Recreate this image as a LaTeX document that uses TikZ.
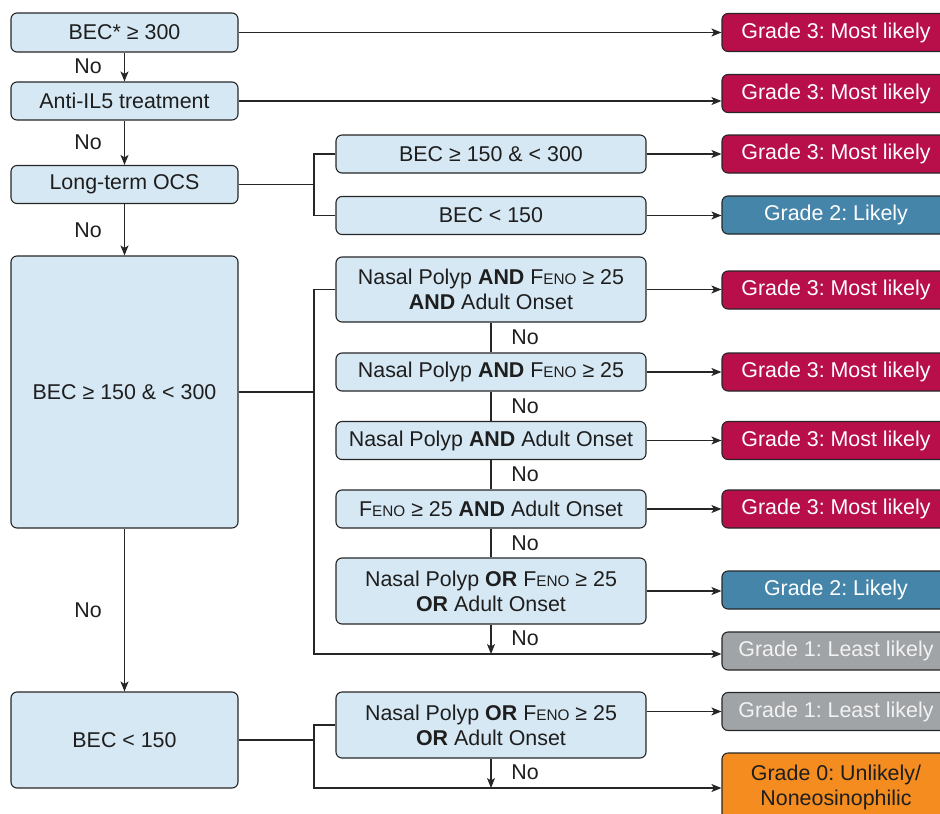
\documentclass[tikz,border=0pt]{standalone}
\usepackage{fontspec}
\setmainfont{Liberation Sans}
\usetikzlibrary{arrows.meta}
\definecolor{boxfill}{RGB}{214,232,244}
\definecolor{linec}{RGB}{38,38,38}
\definecolor{txtc}{RGB}{30,30,30}
\definecolor{gthree}{RGB}{184,15,75}
\definecolor{gtwo}{RGB}{69,133,170}
\definecolor{gone}{RGB}{160,164,167}
\definecolor{gzero}{RGB}{244,140,32}
\newcommand{\feno}{F{\fontsize{15.3}{15.3}\selectfont ENO}}
\frenchspacing
\begin{document}
\begin{tikzpicture}[x=1pt,y=-1pt,
  font=\fontsize{21.4}{25}\selectfont, line width=1.1pt,
  qbox/.style={draw=linec, fill=boxfill, rounded corners=6pt, align=center, inner sep=0pt, text=txtc},
  lbox/.style={qbox, minimum width=227pt},
  mbox/.style={qbox, minimum width=310pt, minimum height=38pt},
  grade/.style={draw=linec, rounded corners=6pt, align=center, inner sep=0pt, minimum width=228pt, minimum height=38pt},
  g3/.style={grade, fill=gthree, text=white},
  g2/.style={grade, fill=gtwo, text=white},
  g1/.style={grade, fill=gone, text=white!95!black},
  g0/.style={grade, fill=gzero, text=txtc},
  arr/.style={draw=linec, -{Stealth[length=10pt,width=8pt,inset=2.5pt]}},
  ln/.style={draw=linec},
  nolab/.style={inner sep=0pt, text=txtc}]
\useasboundingbox (0,0) rectangle (940,814);
\clip (0,0) rectangle (940,814);
% left column
\node[lbox, minimum height=39pt] (b1) at (124.5,32.5) {BEC* ≥ 300};
\node[lbox, minimum height=38pt] (b2) at (124.5,101) {Anti-IL5 treatment};
\node[lbox, minimum height=38pt] (b3) at (124.5,184.5) {Long-term OCS};
\node[lbox, minimum height=272pt] (b4) at (124.5,392) {BEC ≥ 150 \& < 300};
\node[lbox, minimum height=96pt] (b5) at (124.5,740) {BEC < 150};
% middle column
\node[mbox] (m1) at (491,154) {BEC ≥ 150 \& < 300};
\node[mbox] (m2) at (491,215.5) {BEC < 150};
\node[mbox, minimum height=65pt] (m3) at (491,289.5) {Nasal Polyp \textbf{AND} \feno{} ≥ 25\\\textbf{AND} Adult Onset};
\node[mbox] (m4) at (491,372) {Nasal Polyp \textbf{AND} \feno{} ≥ 25};
\node[mbox] (m5) at (491,440.5) {Nasal Polyp \textbf{AND} Adult Onset};
\node[mbox] (m6) at (491,509) {\feno{} ≥ 25 \textbf{AND} Adult Onset};
\node[mbox, minimum height=66pt] (m7) at (491,591) {Nasal Polyp \textbf{OR} \feno{} ≥ 25\\\textbf{OR} Adult Onset};
\node[mbox, minimum height=66pt] (m8) at (491,725) {Nasal Polyp \textbf{OR} \feno{} ≥ 25\\\textbf{OR} Adult Onset};
% grades
\node[g3] (r1) at (836,32.5) {Grade 3: Most likely};
\node[g3] (r2) at (836,93.5) {Grade 3: Most likely};
\node[g3] (r3) at (836,154) {Grade 3: Most likely};
\node[g2] (r4) at (836,215) {Grade 2: Likely};
\node[g3] (r5) at (836,290) {Grade 3: Most likely};
\node[g3] (r6) at (836,372) {Grade 3: Most likely};
\node[g3] (r7) at (836,440.5) {Grade 3: Most likely};
\node[g3] (r8) at (836,509) {Grade 3: Most likely};
\node[g2] (r9) at (836,590) {Grade 2: Likely};
\node[g1] (r10) at (836,651) {Grade 1: Least likely};
\node[g1] (r11) at (836,711.5) {Grade 1: Least likely};
\node[g0, minimum height=68pt] (r12) at (836,787) {Grade 0: Unlikely/\\Noneosinophilic};
% helper coordinates
\coordinate (bx) at (314,0);
\coordinate (j1) at (491,654);
\coordinate (j2) at (491,788);
% left column connectors
\draw[arr] (b1) -- (b2);
\draw[arr] (b2) -- (b3);
\draw[arr] (b3) -- (b4);
\draw[arr] (b4) -- (b5);
\node[nolab] (n1) at (88,66) {No};
\node[nolab] (n2) at (88,142) {No};
\node[nolab] (n3) at (88,230) {No};
\node[nolab] (n4) at (88,610) {No};
\draw[arr] (b1.east) -- (b1.east -| r1.west);
\draw[arr] (b2.east) -- (b2.east -| r2.west);
% long-term OCS bracket
\draw[ln] (b3.east) -- (b3.east -| bx);
\draw[ln] (m1.west) -- (m1.west -| bx) -- (m2.west -| bx) -- (m2.west);
\draw[arr] (m1.east) -- (m1.east -| r3.west);
\draw[arr] (m2.east) -- (m2.east -| r4.west);
% BEC 150-300 bracket
\draw[ln] (b4.east) -- (b4.east -| bx);
\draw[arr] (m3.west) -- (m3.west -| bx) -- (bx |- j1) -- (j1 -| r10.west);
\draw[ln] (m3) -- (m4);
\draw[ln] (m4) -- (m5);
\draw[ln] (m5) -- (m6);
\draw[ln] (m6) -- (m7);
\draw[arr] (m7.south) -- (j1);
\draw[arr] (m3.east) -- (m3.east -| r5.west);
\draw[arr] (m4.east) -- (m4.east -| r6.west);
\draw[arr] (m5.east) -- (m5.east -| r7.west);
\draw[arr] (m6.east) -- (m6.east -| r8.west);
\draw[arr] (m7.east) -- (m7.east -| r9.west);
\node[nolab] (n5) at (525,337.5) {No};
\node[nolab] (n6) at (525,406.5) {No};
\node[nolab] (n7) at (525,474.5) {No};
\node[nolab] (n8) at (525,543) {No};
\node[nolab] (n9) at (525,638) {No};
% BEC < 150 bracket
\draw[ln] (b5.east) -- (b5.east -| bx);
\draw[arr] (m8.west) -- (m8.west -| bx) -- (bx |- j2) -- (j2 -| r12.west);
\draw[arr] (m8.east |- r11.west) -- (r11.west);
\draw[arr] (m8.south) -- (j2);
\node[nolab] (n10) at (525,772) {No};
\end{tikzpicture}
\end{document}
